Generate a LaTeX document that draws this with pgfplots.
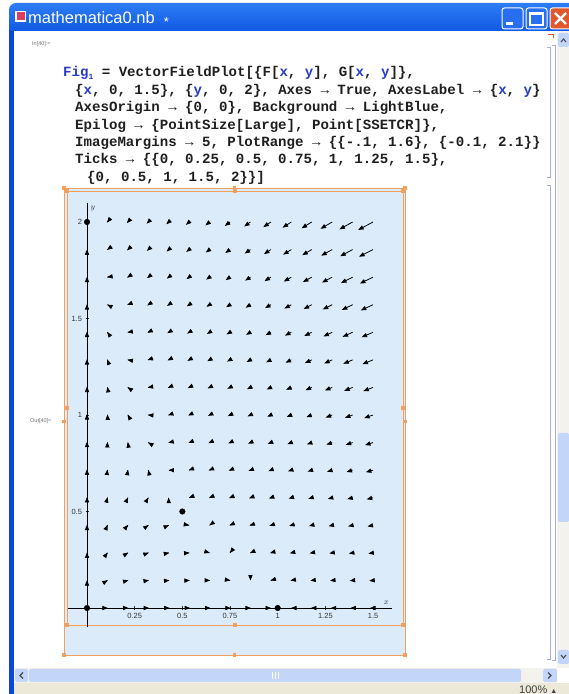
\documentclass[border=0pt]{standalone}
\usepackage{pgfplots}
\pgfplotsset{compat=1.18}
\usepackage[no-math]{fontspec}
\setmainfont{Liberation Sans}
\newfontfamily\codefont{Liberation Mono}
\usetikzlibrary{arrows.meta}
\definecolor{mmablue}{RGB}{40,60,200}
\definecolor{plotbg}{RGB}{220,235,250}
\definecolor{selorange}{RGB}{242,160,95}
\definecolor{xpblue}{RGB}{8,78,222}
\definecolor{xplight}{RGB}{45,125,245}
\definecolor{xpborder}{RGB}{12,72,215}
\definecolor{btnblue}{RGB}{40,110,240}
\definecolor{scrollbtn}{RGB}{196,213,250}
\definecolor{scrolltrack}{RGB}{243,242,236}
\definecolor{statusbg}{RGB}{236,233,216}
\definecolor{bracket}{RGB}{170,175,205}
\definecolor{closered}{RGB}{226,88,45}
\definecolor{iconred}{RGB}{220,60,100}
\definecolor{markred}{RGB}{230,90,50}
\newcommand{\bl}[1]{\textcolor{mmablue}{#1}}
\newcommand{\cl}[3]{\node[anchor=base west, inner sep=0pt, font=\codefont\bfseries\fontsize{14.1}{15}\selectfont, text=black!88] at (#1,#2) {#3};}
\begin{document}
\begin{tikzpicture}[x=1pt,y=1pt]
\path[use as bounding box] (0,0) rectangle (569,694);
\begin{scope}[yshift=694pt, y=-1pt]
\fill[white] (0,0) rectangle (569,694);
% title bar
\shade[top color=xplight, bottom color=xpblue, rounded corners=7pt] (9,40) rectangle (585,3);
\fill[xpborder] (9,31) rectangle (14,694);
\fill[white] (14,31) rectangle (557,668);
% icon
\fill[white] (15,11) rectangle (26,22);
\fill[iconred] (16.5,12.5) rectangle (24.5,20.5);
\node[anchor=base west, inner sep=0pt, text=white, font=\fontsize{16.5}{18}\selectfont] at (28,24) {mathematica0.nb\hspace{9pt}\raisebox{-3pt}{\fontsize{13}{13}\selectfont *}};
% buttons
\draw[white, line width=1, fill=btnblue, rounded corners=2.5pt] (502,8) rectangle (523,29);
\fill[white] (506,22) rectangle (513,25);
\draw[white, line width=1, fill=btnblue, rounded corners=2.5pt] (526,8) rectangle (547,29);
\draw[white, line width=1.2] (530,13) rectangle (543,25);
\fill[white] (530,12) rectangle (543,15);
\draw[white, line width=1, fill=closered, rounded corners=2.5pt] (550,8) rectangle (572,29);
\draw[white, line width=2.2] (555,13) -- (566,24) (566,13) -- (555,24);
% vertical scrollbar
\fill[scrolltrack] (557,31) rectangle (569,668);
\fill[scrollbtn, rounded corners=1.5pt] (558,33) rectangle (569,47);
\draw[line width=1.1, black!70] (561,42) -- (563.5,39) -- (566,42);
\fill[scrollbtn, rounded corners=1.5pt] (558,650) rectangle (569,664);
\draw[line width=1.1, black!70] (561,655) -- (563.5,658) -- (566,655);
\fill[scrollbtn, rounded corners=1.5pt] (558,433) rectangle (569,522);
% horizontal scrollbar
\fill[scrolltrack] (14,668) rectangle (557,683);
\fill[scrollbtn, rounded corners=1.5pt] (15,669) rectangle (28,682);
\draw[line width=1.1, black!70] (23,672.5) -- (20,675.5) -- (23,678.5);
\fill[scrollbtn, rounded corners=1.5pt] (29,669) rectangle (521,682);
\draw[white, line width=0.8] (272,672) -- (272,679) (275,672) -- (275,679) (278,672) -- (278,679);
\fill[scrollbtn, rounded corners=1.5pt] (543,669) rectangle (557,682);
\draw[line width=1.1, black!70] (548,672.5) -- (551,675.5) -- (548,678.5);
% status bar
\fill[statusbg] (14,683) rectangle (569,694);
\node[anchor=base west, inner sep=0pt, text=black!75, font=\fontsize{11}{12}\selectfont] at (519,693) {100\% {\fontsize{7}{7}\selectfont ▲}};
% cell labels
\node[anchor=west, inner sep=0pt, font=\fontsize{5.5}{6}\selectfont, text=black!55] at (32,44) {In[40]:=};
\node[anchor=west, inner sep=0pt, font=\fontsize{5.5}{6}\selectfont, text=black!55] at (30,421) {Out[40]=};
% code
\cl{63}{77}{\bl{Fig}\bl{\raisebox{-2.5pt}{\fontsize{8}{8}\selectfont 1}} = VectorFieldPlot[\{F[\bl{x}, \bl{y}], G[\bl{x}, \bl{y}]\},}
\cl{75}{95}{\{\bl{x}, 0, 1.5\}, \{\bl{y}, 0, 2\}, Axes → True, AxesLabel → \{\bl{x}, \bl{y}\}}
\cl{75}{112}{AxesOrigin → \{0, 0\}, Background → LightBlue,}
\cl{75}{129.5}{Epilog → \{PointSize[Large], Point[SSETCR]\},}
\cl{75}{147}{ImageMargins → 5, PlotRange → \{\{-.1, 1.6\}, \{-0.1, 2.1\}\}}
\cl{75}{164}{Ticks → \{\{0, 0.25, 0.5, 0.75, 1, 1.25, 1.5\},}
\cl{87}{181.5}{\{0, 0.5, 1, 1.5, 2\}\}]}
% brackets
\draw[bracket, line width=1] (547,48) -- (550.5,48) -- (550.5,178) -- (547,178);
\draw[bracket, line width=1] (547,186) -- (550.5,186) -- (550.5,660) -- (547,660);
\draw[bracket, line width=1] (551.5,46) -- (555,46) -- (555,661) -- (551.5,661);
\draw[markred, line width=1] (548,35) -- (553,35) -- (553,38);
% plot box
\fill[plotbg] (64,188) rectangle (405,655);
\draw[selorange, line width=0.9] (64,188) rectangle (405,655);
\draw[selorange, line width=0.9] (67,191) rectangle (403,625);
\foreach \px/\py in {64/188,234.5/188,405/188,64/421.5,405/421.5,64/655,234.5/655,405/655,67/191,235/191,403/191,67/408,403/408,67/625,235/625,403/625}
  \fill[selorange] (\px-1.8,\py-1.8) rectangle (\px+1.8,\py+1.8);
\end{scope}
\begin{axis}[
  anchor=south west, at={(67.93pt,66.7pt)},
  x=190.7pt, y=193pt,
  xmin=-0.1, xmax=1.6, ymin=-0.1, ymax=2.1,
  axis lines=middle,
  axis line style={-, line width=0.8pt, black},
  xtick={0.25,0.5,0.75,1,1.25,1.5}, ytick={0.5,1,1.5,2},
  xticklabels={0.25,0.5,0.75,1,1.25,1.5}, yticklabels={0.5,1,1.5,2},
  tick label style={font=\fontsize{7.5}{8}\selectfont, text=black!80},
  major tick length=3pt, tick style={black!80, line width=0.5pt},
  xlabel={$x$}, ylabel={$y$},
  label style={font=\fontsize{8}{8}\selectfont, text=black!80},
  clip=false,
]
\addplot[black, line width=0.8pt, -{Triangle[length=5.5pt,width=4.2pt]},
  quiver={u=\thisrow{u}, v=\thisrow{v}, scale arrows=0.000106}] table[x=x,y=y] {
x y u v
0 0.1429 0 11.44
0 0.2857 0 21.12
0 0.4286 0 29.04
0 0.5714 0 35.2
0 0.7143 0 39.6
0 0.8571 0 42.24
0 1 0 43.12
0 1.1429 0 42.24
0 1.2857 0 39.6
0 1.4286 0 35.2
0 1.5714 0 29.04
0 1.7143 0 21.12
0 1.8571 0 11.44
0.1071 0 18.75 0
0.1071 0.1429 15.75 9.46
0.1071 0.2857 12.75 17.16
0.1071 0.4286 9.75 23.1
0.1071 0.5714 6.75 27.28
0.1071 0.7143 3.75 29.7
0.1071 0.8571 0.75 30.36
0.1071 1 -2.25 29.26
0.1071 1.1429 -5.25 26.4
0.1071 1.2857 -8.25 21.78
0.1071 1.4286 -11.25 15.4
0.1071 1.5714 -14.25 7.26
0.1071 1.7143 -17.25 -2.64
0.1071 1.8571 -20.25 -14.3
0.1071 2 -23.25 -27.72
0.2143 0 33 0
0.2143 0.1429 27 7.48
0.2143 0.2857 21 13.2
0.2143 0.4286 15 17.16
0.2143 0.5714 9 19.36
0.2143 0.7143 3 19.8
0.2143 0.8571 -3 18.48
0.2143 1 -9 15.4
0.2143 1.1429 -15 10.56
0.2143 1.2857 -21 3.96
0.2143 1.4286 -27 -4.4
0.2143 1.5714 -33 -14.52
0.2143 1.7143 -39 -26.4
0.2143 1.8571 -45 -40.04
0.2143 2 -51 -55.44
0.3214 0 42.75 0
0.3214 0.1429 33.75 5.5
0.3214 0.2857 24.75 9.24
0.3214 0.4286 15.75 11.22
0.3214 0.5714 6.75 11.44
0.3214 0.7143 -2.25 9.9
0.3214 0.8571 -11.25 6.6
0.3214 1 -20.25 1.54
0.3214 1.1429 -29.25 -5.28
0.3214 1.2857 -38.25 -13.86
0.3214 1.4286 -47.25 -24.2
0.3214 1.5714 -56.25 -36.3
0.3214 1.7143 -65.25 -50.16
0.3214 1.8571 -74.25 -65.78
0.3214 2 -83.25 -83.16
0.4286 0 48 0
0.4286 0.1429 36 3.52
0.4286 0.2857 24 5.28
0.4286 0.4286 12 5.28
0.4286 0.5714 0 3.52
0.4286 0.7143 -12 0
0.4286 0.8571 -24 -5.28
0.4286 1 -36 -12.32
0.4286 1.1429 -48 -21.12
0.4286 1.2857 -60 -31.68
0.4286 1.4286 -72 -44
0.4286 1.5714 -84 -58.08
0.4286 1.7143 -96 -73.92
0.4286 1.8571 -108 -91.52
0.4286 2 -120 -110.88
0.5357 0 48.75 0
0.5357 0.1429 33.75 1.54
0.5357 0.2857 18.75 1.32
0.5357 0.4286 3.75 -0.66
0.5357 0.5714 -11.25 -4.4
0.5357 0.7143 -26.25 -9.9
0.5357 0.8571 -41.25 -17.16
0.5357 1 -56.25 -26.18
0.5357 1.1429 -71.25 -36.96
0.5357 1.2857 -86.25 -49.5
0.5357 1.4286 -101.25 -63.8
0.5357 1.5714 -116.25 -79.86
0.5357 1.7143 -131.25 -97.68
0.5357 1.8571 -146.25 -117.26
0.5357 2 -161.25 -138.6
0.6429 0 45 0
0.6429 0.1429 27 -0.44
0.6429 0.2857 9 -2.64
0.6429 0.4286 -9 -6.6
0.6429 0.5714 -27 -12.32
0.6429 0.7143 -45 -19.8
0.6429 0.8571 -63 -29.04
0.6429 1 -81 -40.04
0.6429 1.1429 -99 -52.8
0.6429 1.2857 -117 -67.32
0.6429 1.4286 -135 -83.6
0.6429 1.5714 -153 -101.64
0.6429 1.7143 -171 -121.44
0.6429 1.8571 -189 -143
0.6429 2 -207 -166.32
0.75 0 36.75 0
0.75 0.1429 15.75 -2.42
0.75 0.2857 -5.25 -6.6
0.75 0.4286 -26.25 -12.54
0.75 0.5714 -47.25 -20.24
0.75 0.7143 -68.25 -29.7
0.75 0.8571 -89.25 -40.92
0.75 1 -110.25 -53.9
0.75 1.1429 -131.25 -68.64
0.75 1.2857 -152.25 -85.14
0.75 1.4286 -173.25 -103.4
0.75 1.5714 -194.25 -123.42
0.75 1.7143 -215.25 -145.2
0.75 1.8571 -236.25 -168.74
0.75 2 -257.25 -194.04
0.8571 0 24 0
0.8571 0.1429 0 -4.4
0.8571 0.2857 -24 -10.56
0.8571 0.4286 -48 -18.48
0.8571 0.5714 -72 -28.16
0.8571 0.7143 -96 -39.6
0.8571 0.8571 -120 -52.8
0.8571 1 -144 -67.76
0.8571 1.1429 -168 -84.48
0.8571 1.2857 -192 -102.96
0.8571 1.4286 -216 -123.2
0.8571 1.5714 -240 -145.2
0.8571 1.7143 -264 -168.96
0.8571 1.8571 -288 -194.48
0.8571 2 -312 -221.76
0.9643 0 6.75 0
0.9643 0.1429 -20.25 -6.38
0.9643 0.2857 -47.25 -14.52
0.9643 0.4286 -74.25 -24.42
0.9643 0.5714 -101.25 -36.08
0.9643 0.7143 -128.25 -49.5
0.9643 0.8571 -155.25 -64.68
0.9643 1 -182.25 -81.62
0.9643 1.1429 -209.25 -100.32
0.9643 1.2857 -236.25 -120.78
0.9643 1.4286 -263.25 -143
0.9643 1.5714 -290.25 -166.98
0.9643 1.7143 -317.25 -192.72
0.9643 1.8571 -344.25 -220.22
0.9643 2 -371.25 -249.48
1.0714 0 -15 0
1.0714 0.1429 -45 -8.36
1.0714 0.2857 -75 -18.48
1.0714 0.4286 -105 -30.36
1.0714 0.5714 -135 -44
1.0714 0.7143 -165 -59.4
1.0714 0.8571 -195 -76.56
1.0714 1 -225 -95.48
1.0714 1.1429 -255 -116.16
1.0714 1.2857 -285 -138.6
1.0714 1.4286 -315 -162.8
1.0714 1.5714 -345 -188.76
1.0714 1.7143 -375 -216.48
1.0714 1.8571 -405 -245.96
1.0714 2 -435 -277.2
1.1786 0 -41.25 0
1.1786 0.1429 -74.25 -10.34
1.1786 0.2857 -107.25 -22.44
1.1786 0.4286 -140.25 -36.3
1.1786 0.5714 -173.25 -51.92
1.1786 0.7143 -206.25 -69.3
1.1786 0.8571 -239.25 -88.44
1.1786 1 -272.25 -109.34
1.1786 1.1429 -305.25 -132
1.1786 1.2857 -338.25 -156.42
1.1786 1.4286 -371.25 -182.6
1.1786 1.5714 -404.25 -210.54
1.1786 1.7143 -437.25 -240.24
1.1786 1.8571 -470.25 -271.7
1.1786 2 -503.25 -304.92
1.2857 0 -72 0
1.2857 0.1429 -108 -12.32
1.2857 0.2857 -144 -26.4
1.2857 0.4286 -180 -42.24
1.2857 0.5714 -216 -59.84
1.2857 0.7143 -252 -79.2
1.2857 0.8571 -288 -100.32
1.2857 1 -324 -123.2
1.2857 1.1429 -360 -147.84
1.2857 1.2857 -396 -174.24
1.2857 1.4286 -432 -202.4
1.2857 1.5714 -468 -232.32
1.2857 1.7143 -504 -264
1.2857 1.8571 -540 -297.44
1.2857 2 -576 -332.64
1.3929 0 -107.25 0
1.3929 0.1429 -146.25 -14.3
1.3929 0.2857 -185.25 -30.36
1.3929 0.4286 -224.25 -48.18
1.3929 0.5714 -263.25 -67.76
1.3929 0.7143 -302.25 -89.1
1.3929 0.8571 -341.25 -112.2
1.3929 1 -380.25 -137.06
1.3929 1.1429 -419.25 -163.68
1.3929 1.2857 -458.25 -192.06
1.3929 1.4286 -497.25 -222.2
1.3929 1.5714 -536.25 -254.1
1.3929 1.7143 -575.25 -287.76
1.3929 1.8571 -614.25 -323.18
1.3929 2 -653.25 -360.36
1.5 0 -147 0
1.5 0.1429 -189 -16.28
1.5 0.2857 -231 -34.32
1.5 0.4286 -273 -54.12
1.5 0.5714 -315 -75.68
1.5 0.7143 -357 -99
1.5 0.8571 -399 -124.08
1.5 1 -441 -150.92
1.5 1.1429 -483 -179.52
1.5 1.2857 -525 -209.88
1.5 1.4286 -567 -242
1.5 1.5714 -609 -275.88
1.5 1.7143 -651 -311.52
1.5 1.8571 -693 -348.92
1.5 2 -735 -388.08
};
\addplot[only marks, mark=*, mark size=2.8pt, black] coordinates {(0,0) (1,0) (0,2) (0.5,0.5)};
\end{axis}
\end{tikzpicture}
\end{document}
